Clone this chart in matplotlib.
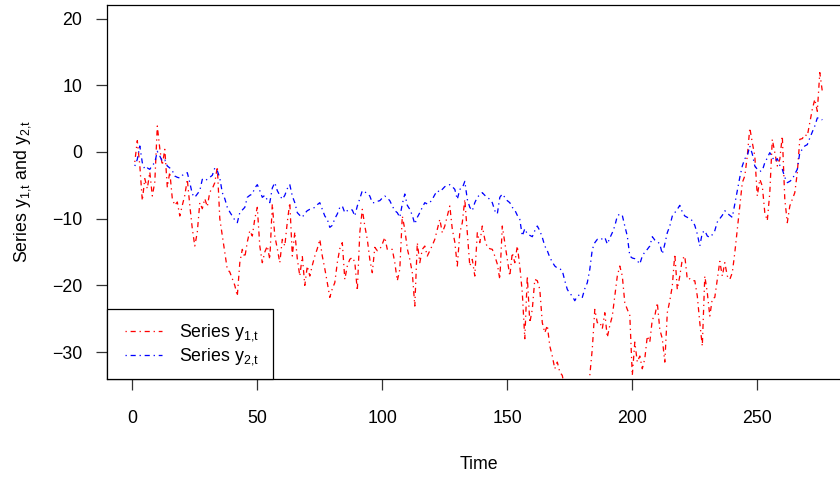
import numpy as np
import matplotlib
matplotlib.use("Agg")
import matplotlib.pyplot as plt
from matplotlib.patches import Rectangle
from matplotlib.lines import Line2D

# ====== 資料：從圖上估讀 ======
time = np.arange(1, 277)

series_y1 = [
    -1.5, 1.7, -2.0, -7.3, -4.0, -5.5, -3.0, -6.6, -4.5, 3.9,
    0.5, -2.0, 0.4, -5.3, -3.0, -7.0, -8.0, -7.5, -9.6, -8.0,
    -6.5, -4.1, -8.0, -11.5, -14.1, -12.0, -7.6, -8.5, -7.0, -8.2,
    -6.0, -5.5, -4.6, -2.2, -10.0, -12.5, -15.0, -17.6, -18.0, -19.0,
    -20.0, -21.6, -16.6, -14.6, -15.8, -13.5, -11.8, -12.6, -10.0, -8.3,
    -14.1, -16.6, -15.0, -14.1, -16.1, -7.8, -12.6, -14.5, -16.6, -13.1,
    -14.1, -10.5, -7.6, -15.6, -12.0, -16.0, -18.6, -15.6, -20.0, -17.1,
    -18.6, -17.0, -15.6, -14.5, -13.1, -15.6, -17.5, -19.6, -21.8, -20.5,
    -19.6, -16.6, -14.5, -13.6, -19.1, -17.1, -16.1, -15.8, -16.5, -20.8,
    -12.1, -8.6, -11.1, -13.1, -16.1, -18.1, -14.3, -14.8, -14.6, -13.8,
    -12.8, -14.6, -14.6, -14.6, -16.6, -19.3, -17.6, -9.6, -11.6, -14.5,
    -16.1, -18.1, -23.1, -13.6, -16.6, -14.6, -14.1, -15.6, -14.8, -14.0,
    -13.1, -11.6, -10.1, -12.1, -11.1, -9.6, -8.1, -11.6, -13.5, -17.1,
    -12.1, -10.6, -7.1, -12.0, -17.1, -16.1, -18.6, -12.1, -13.6, -11.1,
    -13.1, -14.3, -14.5, -14.6, -15.6, -16.8, -19.1, -11.1, -13.6, -16.1,
    -18.6, -15.1, -16.6, -14.1, -17.1, -21.1, -28.0, -18.6, -25.6, -23.6,
    -19.1, -19.3, -20.6, -25.6, -27.1, -26.0, -29.1, -30.6, -32.5, -31.5,
    -33.0, -33.5, -35.5, -37.0, -38.0, -37.5, -36.0, -38.5, -37.0, -36.5,
    -35.5, -36.0, -33.5, -29.5, -23.6, -25.6, -25.5, -26.5, -24.1, -27.8,
    -26.0, -24.6, -21.6, -18.6, -17.1, -18.6, -22.6, -23.6, -24.5, -33.5,
    -28.5, -31.5, -30.6, -32.5, -31.0, -27.6, -28.5, -25.1, -24.6, -22.6,
    -26.6, -28.0, -31.5, -24.1, -22.3, -20.1, -15.3, -20.6, -18.6, -16.1,
    -15.6, -19.1, -19.0, -19.3, -19.3, -21.6, -25.6, -29.1, -18.6, -21.1,
    -24.6, -22.0, -21.8, -19.1, -16.4, -18.6, -16.6, -18.6, -19.1, -18.1,
    -15.1, -11.6, -8.1, -4.6, -3.6, -0.6, 3.6, 1.4, -0.6, -6.6,
    -4.1, -5.1, -9.1, -10.3, -6.1, 1.9, -0.1, -2.1, -1.1, 2.4,
    -7.1, -10.6, -8.1, -7.1, -6.1, -3.1, 1.9, 2.0, 2.6, 2.4,
    4.4, 6.4, 7.9, 6.1, 11.9, 9.1,
]

series_y2 = [
    -2.1, -1.1, 0.9, -1.6, -2.6, -2.4, -2.6, -2.0, -1.6, 0.1,
    -0.6, -1.4, -1.2, -2.1, -2.4, -2.8, -3.6, -3.8, -3.9, -3.5,
    -3.3, -3.1, -4.6, -6.3, -6.8, -6.3, -5.8, -4.1, -4.3, -4.1,
    -3.8, -3.5, -2.4, -2.8, -3.9, -6.1, -7.0, -8.3, -9.0, -9.6,
    -10.2, -10.6, -9.1, -8.7, -8.3, -6.8, -6.5, -6.3, -5.4, -4.9,
    -5.8, -6.8, -6.5, -7.2, -7.6, -5.4, -4.6, -5.8, -6.5, -7.1,
    -6.5, -5.5, -4.9, -6.6, -7.6, -9.1, -9.5, -9.8, -9.2, -8.8,
    -8.6, -8.5, -8.3, -7.9, -7.6, -8.6, -9.6, -10.1, -11.3, -11.0,
    -10.0, -9.3, -8.3, -8.1, -9.1, -8.8, -8.6, -8.7, -9.6, -8.1,
    -7.0, -5.8, -6.0, -6.2, -6.6, -7.6, -7.6, -7.4, -7.3, -6.9,
    -6.6, -6.9, -7.3, -8.1, -8.8, -9.1, -9.8, -7.8, -6.3, -8.0,
    -8.6, -9.5, -10.8, -9.8, -9.1, -8.3, -7.6, -7.8, -7.6, -7.1,
    -6.4, -5.8, -6.0, -5.6, -5.2, -5.0, -4.9, -5.2, -5.6, -7.1,
    -5.6, -5.4, -4.4, -7.1, -8.3, -8.8, -7.6, -6.8, -6.4, -6.1,
    -6.5, -6.8, -7.1, -7.6, -8.8, -9.3, -6.8, -6.3, -6.8, -7.3,
    -7.6, -8.3, -8.7, -9.5, -10.1, -12.6, -11.5, -12.3, -12.5, -12.7,
    -11.8, -11.1, -11.8, -12.8, -14.1, -14.8, -15.8, -16.5, -17.1, -17.4,
    -17.5, -17.8, -19.3, -20.6, -21.2, -21.6, -22.3, -21.6, -21.4, -21.8,
    -20.5, -19.6, -17.6, -14.6, -13.6, -13.1, -13.2, -13.0, -12.8, -13.8,
    -12.9, -12.1, -11.1, -9.6, -9.3, -9.5, -11.1, -12.6, -15.6, -15.9,
    -16.0, -16.3, -16.8, -15.6, -15.0, -14.6, -14.1, -12.7, -13.2, -13.4,
    -13.8, -15.3, -13.8, -12.1, -11.1, -9.6, -9.1, -8.6, -8.0, -9.0,
    -9.6, -9.8, -10.0, -10.3, -11.0, -12.3, -14.1, -12.1, -11.8, -12.6,
    -12.8, -12.4, -11.8, -10.5, -10.0, -9.5, -8.8, -9.2, -9.5, -9.8,
    -7.8, -5.8, -3.8, -2.1, -1.0, -0.6, 0.9, -0.3, -2.1, -2.6,
    -2.9, -2.8, -1.6, -0.9, -0.1, -0.8, -1.4, -1.0, -2.0, -2.6,
    -3.8, -4.6, -4.4, -4.1, -3.3, -2.6, -0.1, 0.4, 0.9, 1.1,
    2.1, 3.0, 3.9, 5.1, 5.1, 4.8,
]

x_ticks = [0, 50, 100, 150, 200, 250]
y_ticks = [-30, -20, -10, 0, 10, 20]
y_lim = (-32, 20)

label_y1 = r"Series $\mathregular{y_{1{,}t}}$"
label_y2 = r"Series $\mathregular{y_{2{,}t}}$"
ylabel = r"Series $\mathregular{y_{1{,}t}}$ and $\mathregular{y_{2{,}t}}$"

# ====== 字型 ======
plt.rcParams["font.family"] = ["Liberation Sans", "DejaVu Sans"]
plt.rcParams["mathtext.fontset"] = "custom"
plt.rcParams["mathtext.rm"] = "Liberation Sans"

FS = 12.8
W, H = 840, 478

# ====== 畫圖（R 風格：4% 擴張、右邊框超出圖片） ======
fig = plt.figure(figsize=(W / 100, H / 100), dpi=100)
ax = fig.add_axes([107.3 / W, (H - 379.3) / H,
                   (849.8 - 107.3) / W, (379.3 - 4.7) / H])

dash = (0, (1, 3, 4, 3))
ax.plot(time, series_y1, color="#FF0000", lw=0.92, linestyle=dash)
ax.plot(time, series_y2, color="#0000FF", lw=0.92, linestyle=dash)

pad_x = 0.04 * (time[-1] - time[0])
pad_y = 0.04 * (y_lim[1] - y_lim[0])
ax.set_xlim(time[0] - pad_x, time[-1] + pad_x)
ax.set_ylim(y_lim[0] - pad_y, y_lim[1] + pad_y)

ax.set_xticks(x_ticks)
ax.set_yticks(y_ticks)
ax.tick_params(axis="both", direction="out", length=8, width=0.9,
               labelsize=FS, color="#333333")
ax.tick_params(axis="x", pad=14)
ax.tick_params(axis="y", pad=10)
for sp in ax.spines.values():
    sp.set_linewidth(0.9)

ax.set_xlabel("Time", fontsize=FS, labelpad=21)
ax.set_ylabel(ylabel, fontsize=FS, labelpad=14)

# ====== legend：仿 R 的 legend("bottomleft")，手動畫框 ======
def px(x, y):
    return x / W, (H - y) / H

x0, y0 = px(107.3, 379.3)
x1, y1 = px(273.3, 309.0)
fig.add_artist(Rectangle((x0, y0), x1 - x0, y1 - y0, transform=fig.transFigure,
                         facecolor="white", edgecolor="black", lw=0.9, zorder=5))
for row_y, color, label in [(331, "#FF0000", label_y1), (355, "#0000FF", label_y2)]:
    lx0, ly = px(125, row_y)
    lx1, _ = px(162, row_y)
    fig.add_artist(Line2D([lx0, lx1], [ly, ly], transform=fig.transFigure,
                          color=color, lw=0.92, linestyle=dash, zorder=6))
    tx, ty = px(179, row_y + 1.5)
    fig.text(tx, ty, label, fontsize=FS, va="center", ha="left", zorder=6)

fig.savefig("out.png", dpi=100)
plt.close()
